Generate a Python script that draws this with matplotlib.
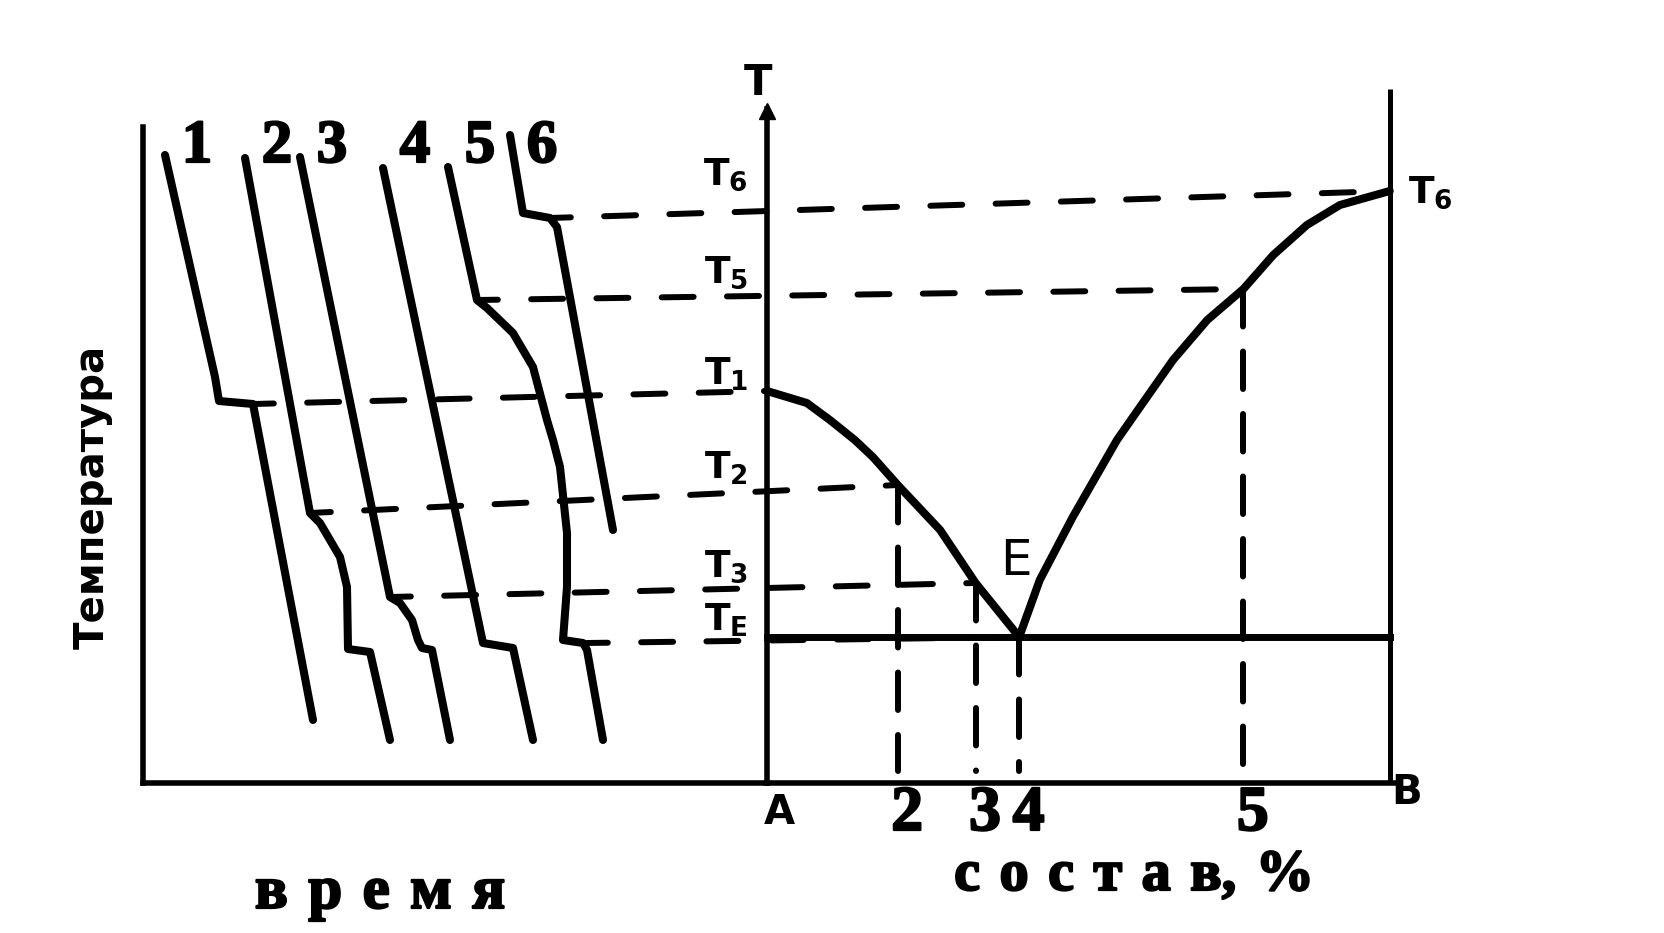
import matplotlib.pyplot as plt
import matplotlib.patheffects as pe
from matplotlib.patches import ConnectionPatch

plt.rcParams['font.family'] = ['DejaVu Sans']
plt.rcParams['mathtext.fontset'] = 'dejavusans'
plt.rcParams['lines.scale_dashes'] = False

# cooling curves (time, temperature) -- arbitrary units
curve_names = ['1', '2', '3', '4', '5', '6']
curve_time = [
    [11, 36, 38, 55, 85],
    [51, 83.5, 88.5, 98.5, 102, 102.5, 113.5, 123.5],
    [78.5, 123.5, 128.5, 134.5, 137.5, 139.5, 144.5, 153.5],
    [120, 170, 185, 195],
    [152.5, 167, 172, 185, 195, 202, 205, 208.5, 212, 212, 210, 220, 222, 230],
    [183.5, 190, 203.5, 207, 235],
]
curve_temp = [
    [314, 203, 191, 189.5, 31.5],
    [312.5, 135, 130, 113, 98, 67, 65.5, 21.5],
    [313, 93, 90, 81.5, 71.5, 67.5, 66.5, 21.5],
    [307.5, 70, 67.5, 21.5],
    [308, 241.5, 237.5, 225, 208, 181.5, 171.5, 158, 125, 98, 71.5, 70, 66.5, 21.5],
    [324, 285, 282.5, 278, 126.5],
]

# temperature levels on the diagram and where they meet the liquidus
level_names = [r'$\mathbf{T}_\mathbf{1}$', r'$\mathbf{T}_\mathbf{2}$', r'$\mathbf{T}_\mathbf{3}$',
               r'$\mathbf{T}_\mathbf{E}$', r'$\mathbf{T}_\mathbf{5}$', r'$\mathbf{T}_\mathbf{6}$']
level_temp = [196, 149, 100, 73, 247, 296]
level_comp = [0, 21, 33.5, 40.5, 76.5, 100]
# arrest points on the cooling curves the dashed lines start from
arrest_time = [55, 83.5, 123.5, 222, 167, 203.5]
arrest_temp = [189.5, 135, 93, 70, 241.5, 282.5]

# liquidus branches (composition %, temperature)
liq_left_c = [0, 6.4, 10.1, 14.1, 17.0, 21, 27.8, 33.5, 40.5]
liq_left_T = [196, 190, 181.5, 171.5, 163, 149, 126.5, 100, 73]
liq_right_c = [40.5, 43.8, 49.1, 56.2, 59.9, 65.2, 70.7, 76.5, 81.3, 86.7, 92, 100]
liq_right_T = [73, 101.5, 133, 171.5, 188, 211.5, 231.5, 247, 264, 279, 289, 296]

# alloys marked on composition axis
alloy_names = ['2', '3', '4', '5']
alloy_comp = [21, 33.5, 40.5, 76.5]
alloy_temp = [149, 100, 73, 247]
T_eut = 73

fig = plt.figure(figsize=(16.64, 9.33), dpi=100)
ax_t = fig.add_axes([143 / 1664, 150 / 933, 624 / 1664, 720 / 933])
ax_c = fig.add_axes([767 / 1664, 150 / 933, 685 / 1664, 720 / 933])
for ax in (ax_t, ax_c):
    ax.set_ylim(0, 360)
    ax.set_xticks([])
    ax.set_yticks([])
    ax.patch.set_visible(False)
    for s in ('top', 'right'):
        ax.spines[s].set_visible(False)
    for s in ('left', 'bottom'):
        ax.spines[s].set_linewidth(4)
ax_t.set_xlim(0, 312)
ax_c.set_xlim(0, 110)
ax_t.spines['left'].set_bounds(0, 328)
ax_c.spines['left'].set_bounds(0, 337)
ax_c.spines['bottom'].set_bounds(0, 101.5)
ax_c.vlines(100, 0, 347, color='k', lw=3.6, clip_on=False)
ax_c.plot(0, 336, marker='^', ms=11, color='k', clip_on=False)

# heavy serif like the scanned print
serif = dict(family='Liberation Serif', weight='bold',
             path_effects=[pe.withStroke(linewidth=1.6, foreground='k')])

# cooling curves
for name, t, T in zip(curve_names, curve_time, curve_temp):
    ax_t.plot(t, T, color='k', lw=5.8, solid_joinstyle='round',
              solid_capstyle='round', clip_on=False)
    ax_t.text(t[0] + 16, 318, name, fontsize=44, ha='center', va='center', **serif)

# phase diagram
ax_c.plot(liq_left_c, liq_left_T, color='k', lw=5.8, solid_joinstyle='round',
          solid_capstyle='round', clip_on=False)
ax_c.plot(liq_right_c, liq_right_T, color='k', lw=5.8, solid_joinstyle='round',
          solid_capstyle='round', clip_on=False)
ax_c.plot([0, 100], [T_eut, T_eut], color='k', lw=5, clip_on=False)

for c, T in zip(alloy_comp, alloy_temp):
    ax_c.plot([c, c], [T, 6], color='k', lw=4.3, dashes=(27, 18),
              dash_capstyle='round', clip_on=False)

# dashed lines from cooling curve arrests to the diagram
for t0, T0, c1, T1 in zip(arrest_time, arrest_temp, level_comp, level_temp):
    con = ConnectionPatch(xyA=(t0, T0), coordsA=ax_t.transData,
                          xyB=(c1, T1), coordsB=ax_c.transData,
                          color='k', lw=4.3, linestyle=(8, (23, 24)),
                          capstyle='round')
    fig.add_artist(con)

# level labels
for name, T in zip(level_names, level_temp):
    ax_c.text(-3, T - 1, name, fontsize=27, ha='right', va='bottom')
ax_c.text(103, level_temp[-1] - 1, level_names[-1], fontsize=27, ha='left', va='center')
ax_c.text(-1.5, 350, 'T', fontsize=30, weight='bold', ha='center', va='center')
ax_c.text(40, 111, 'E', fontsize=36, ha='center', va='center')
ax_c.text(2, -15, 'A', fontsize=29, weight='bold', ha='center', va='center')
ax_c.text(102.7, -5, 'B', fontsize=29, weight='bold', ha='center', va='center')
for name, c in zip(alloy_names, alloy_comp):
    ax_c.text(c + 1.5, -16, name, fontsize=46, ha='center', va='center', **serif)

ax_t.text(-25, 143, 'Температура', fontsize=29, weight='bold', rotation=90,
          ha='center', va='center')
gap = '\u2004'
ax_t.text(118.5, -62.5, gap.join('время'), fontsize=44, ha='center', va='baseline', **serif)
ax_c.text(59, -53.5, gap.join(['с', 'о', 'с', 'т', 'а', 'в,', '%']), fontsize=42,
          ha='center', va='baseline', **serif)

fig.savefig('out.png', dpi=100)
